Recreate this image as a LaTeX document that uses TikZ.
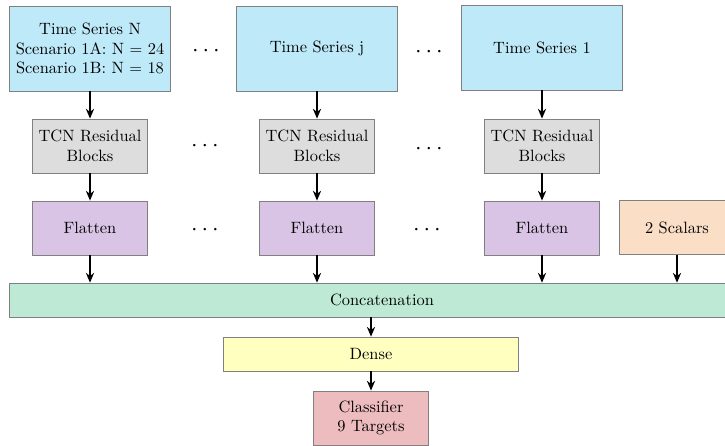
\documentclass[tikz,border=0pt]{standalone}
\definecolor{seriesblue}{RGB}{190, 233, 248}
\definecolor{tcngray}{RGB}{221, 221, 221}
\definecolor{flatviolet}{RGB}{217, 196, 230}
\definecolor{scalarpeach}{RGB}{250, 222, 198}
\definecolor{concatgreen}{RGB}{190, 234, 213}
\definecolor{denseyellow}{RGB}{255, 255, 192}
\definecolor{classpink}{RGB}{237, 188, 190}
\definecolor{edgegray}{RGB}{128, 128, 128}
\usepackage{tikz}
\usetikzlibrary{arrows.meta, positioning, calc}
\tikzset{
  block/.style={draw=edgegray, align=center, inner sep=2pt, font=\normalsize},
  seriesbox/.style={block, fill=seriesblue, minimum width=98pt, minimum height=52pt},
  layerbox/.style={block, minimum width=70pt, minimum height=33pt},
  widebox/.style={block, minimum height=20.7pt},
  flow/.style={line width=1pt, -{Stealth[length=6pt, width=5pt]}},
  gap/.style={font=\Large}
}

\begin{document}
\begin{tikzpicture}[x=0.61pt, y=-0.61pt]
  \useasboundingbox (0, 0) rectangle (725, 446);

  % Input series
  \node[seriesbox] (tsN) at (90, 48.5) {Time Series N\\Scenario 1A: N = 24\\Scenario 1B: N = 18};
  \node[seriesbox] (tsj) at (317, 48.5) {Time Series j};
  \node[seriesbox] (ts1) at (542, 47.5) {Time Series 1};
  \node[gap] (d1a) at (206, 51) {$\cdots$};
  \node[gap] (d1b) at (429, 52) {$\cdots$};

  % TCN blocks
  \node[layerbox, fill=tcngray] (tcnN) at (90, 146) {TCN Residual\\Blocks};
  \node[layerbox, fill=tcngray] (tcnj) at (317, 146) {TCN Residual\\Blocks};
  \node[layerbox, fill=tcngray] (tcn1) at (542, 146) {TCN Residual\\Blocks};
  \node[gap] (d2a) at (205, 146) {$\cdots$};
  \node[gap] (d2b) at (429, 149) {$\cdots$};

  % Flatten
  \node[layerbox, fill=flatviolet] (flN) at (90, 228) {Flatten};
  \node[layerbox, fill=flatviolet] (flj) at (317, 228) {Flatten};
  \node[layerbox, fill=flatviolet] (fl1) at (542, 228) {Flatten};
  \node[layerbox, fill=scalarpeach] (scal) at (677, 227.5) {2 Scalars};
  \node[gap] (d3a) at (205, 230) {$\cdots$};
  \node[gap] (d3b) at (427, 230) {$\cdots$};

  % Head
  \node[widebox, fill=concatgreen, minimum width=455pt] (concat) at (382, 300) {Concatenation};
  \node[widebox, fill=denseyellow, minimum width=180pt] (dense) at (371, 354) {Dense};
  \node[layerbox, fill=classpink] (cls) at (371, 418) {Classifier\\9 Targets};

  % Arrows
  \draw[flow] (tsN) -- (tcnN);
  \draw[flow] (tsj) -- (tcnj);
  \draw[flow] (ts1) -- (tcn1);
  \draw[flow] (tcnN) -- (flN);
  \draw[flow] (tcnj) -- (flj);
  \draw[flow] (tcn1) -- (fl1);
  \draw[flow] (flN) -- (flN |- concat.north);
  \draw[flow] (flj) -- (flj |- concat.north);
  \draw[flow] (fl1) -- (fl1 |- concat.north);
  \draw[flow] (scal) -- (scal |- concat.north);
  \draw[flow] (dense.north |- concat.south) -- (dense);
  \draw[flow] (dense) -- (cls);
\end{tikzpicture}
\end{document}
